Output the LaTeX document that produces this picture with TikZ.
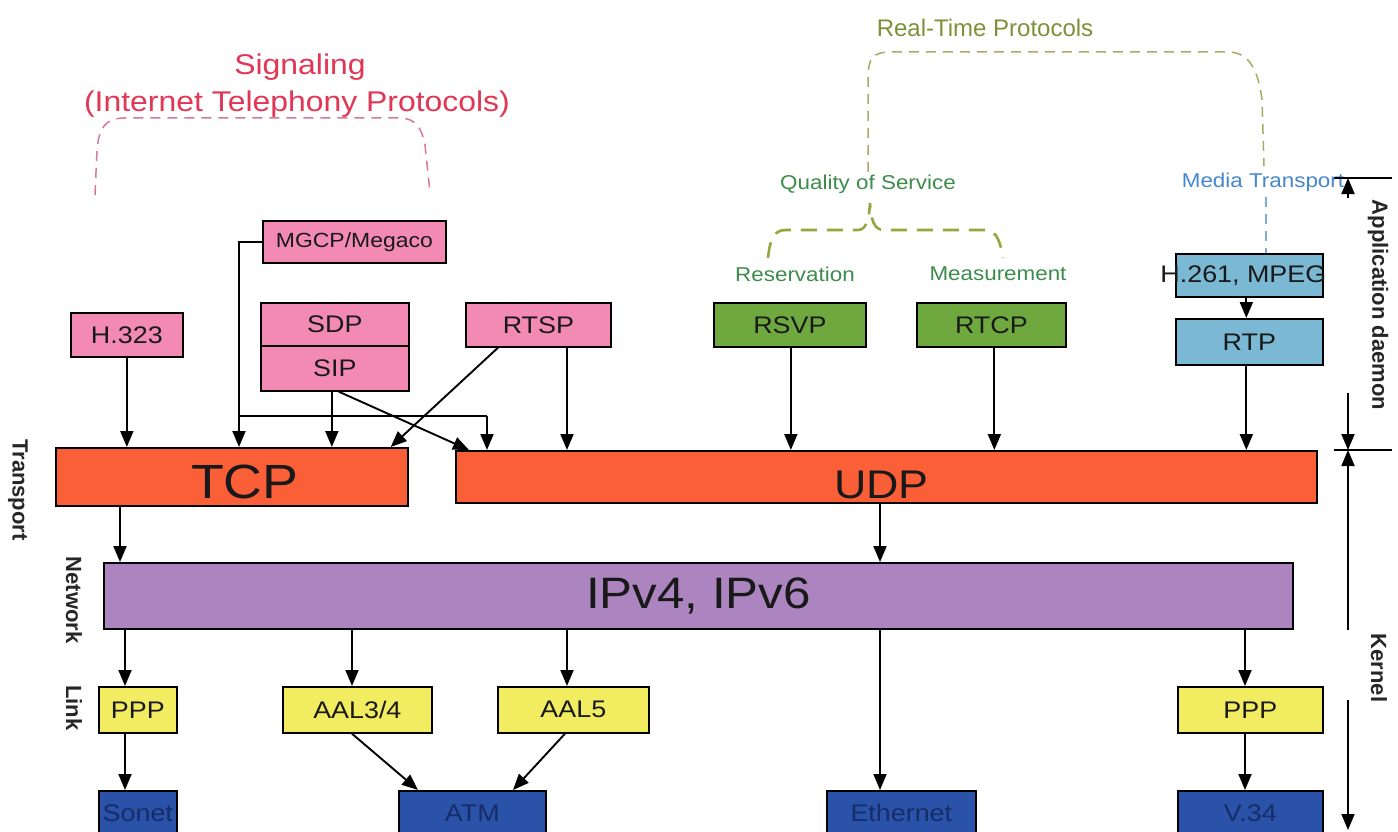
\documentclass[tikz,border=0pt]{standalone}
\usepackage{fontspec}
\setmainfont{Liberation Sans}[FakeStretch=1.12]
\newfontfamily\rotfont{Liberation Sans}
\usetikzlibrary{arrows.meta}

\definecolor{pinkfill}{RGB}{242,138,180}
\definecolor{greenfill}{RGB}{110,168,62}
\definecolor{cyanfill}{RGB}{122,184,212}
\definecolor{redfill}{RGB}{250,95,55}
\definecolor{purplefill}{RGB}{172,132,192}
\definecolor{yellowfill}{RGB}{242,236,96}
\definecolor{bluefill}{RGB}{42,82,168}
\definecolor{navytext}{RGB}{22,45,105}
\definecolor{sigred}{RGB}{225,55,85}
\definecolor{sigdash}{RGB}{215,120,150}
\definecolor{rtolive}{RGB}{125,145,55}
\definecolor{rtdash}{RGB}{170,170,100}
\definecolor{qosdash}{RGB}{150,165,60}
\definecolor{qosgreen}{RGB}{60,140,75}
\definecolor{mediablue}{RGB}{70,135,205}

\newcommand\fs[1]{\fontsize{#1}{#1}\selectfont}

\begin{document}
\begin{tikzpicture}[x=1pt,y=-1pt,
  box/.style={draw=black, line width=1.7pt, anchor=north west, inner sep=0pt,
              font=\fs{24}, text=black!90},
  pinkbox/.style={box, fill=pinkfill},
  greenbox/.style={box, fill=greenfill},
  cyanbox/.style={box, fill=cyanfill},
  redbox/.style={box, fill=redfill},
  purplebox/.style={box, fill=purplefill},
  yellowbox/.style={box, fill=yellowfill},
  darkbox/.style={box, fill=bluefill, text=navytext},
  bigtext/.style={text=black!90, inner sep=0pt},
  arr/.style={draw=black, line width=1.9pt, -{Triangle[length=16pt,width=13pt]}},
  wire/.style={draw=black, line width=1.9pt},
  sidelabel/.style={font=\rotfont\bfseries\fs{22}, rotate=-90, text=black!85},
  qoslabel/.style={font=\fs{20}, text=qosgreen},
  sigbrace/.style={draw=sigdash, line width=1.5pt, dash pattern=on 10pt off 7pt},
  rtbrace/.style={draw=rtdash, line width=1.5pt, dash pattern=on 10pt off 7pt},
  qosbrace/.style={draw=qosdash, line width=2.6pt, dash pattern=on 16pt off 10pt},
  mediabrace/.style={draw=mediablue!70, line width=1.5pt, dash pattern=on 10pt off 7pt},
]
\fill[white] (0,0) rectangle (1398,832);
\useasboundingbox (0,0) rectangle (1398,832);

% ---- group headings ----
\node[font=\fs{28.5}, text=sigred] (sig) at (300,67) {Signaling};
\node[font=\fs{28.5}, text=sigred] (sigsub) at (297,104) {(Internet Telephony Protocols)};
\node[font=\rotfont\fs{24}, text=rtolive] (rt) at (985,28) {Real-Time Protocols};
\node[qoslabel] (qos) at (868,184) {Quality of Service};
\node[qoslabel] (resv) at (795,274) {Reservation};
\node[qoslabel] (meas) at (998,274) {Measurement};
\node[font=\fs{20}, text=mediablue] (media) at (1263,182) {Media Transport};

% ---- dashed braces ----
\draw[sigbrace] (95,195) -- (97,150) .. controls (99,128) and (105,118) .. (125,118)
  -- (400,118) .. controls (415,118) and (422,128) .. (425,145) -- (430,192);
\draw[rtbrace] (868,172) -- (868,80) .. controls (868,58) and (872,52) .. (892,52)
  -- (1228,52) .. controls (1248,52) and (1258,68) .. (1262,100) -- (1264,166);
\draw[qosbrace] (768,258) .. controls (770,240) and (773,230) .. (786,230) -- (858,230)
  .. controls (866,230) and (869,220) .. (870,203)
  .. controls (871,220) and (874,230) .. (884,230) -- (985,230)
  .. controls (996,230) and (1000,240) .. (1003,258);
\draw[mediabrace] (1266,197) -- (1266,253);

% ---- application protocols ----
\node[pinkbox, minimum width=183pt, minimum height=42pt, font=\fs{20.5}] (mgcp) at (262,220) {MGCP/Megaco};
\node[pinkbox, minimum width=112pt, minimum height=44pt] (h323) at (70,312) {H.323};
\node[pinkbox, minimum width=148pt, minimum height=43pt] (sdp) at (260,302) {SDP};
\node[pinkbox, minimum width=148pt, minimum height=45pt] (sip) at (260,345) {SIP};
\node[pinkbox, minimum width=145pt, minimum height=44pt] (rtsp) at (465,302) {RTSP};
\node[greenbox, minimum width=152pt, minimum height=44pt] (rsvp) at (713,302) {RSVP};
\node[greenbox, minimum width=149pt, minimum height=44pt] (rtcp) at (916,302) {RTCP};
\node[cyanbox, minimum width=147pt, minimum height=43pt] (mpeg) at (1175,253) {};
\node[bigtext, font=\fs{24}] (mpegtext) at ([xshift=-6pt]mpeg.center) {H.261, MPEG};
\node[cyanbox, minimum width=147pt, minimum height=46pt] (rtp) at (1175,318) {RTP};

% ---- transport and network ----
\node[redbox, minimum width=352pt, minimum height=58pt] (tcp) at (55,447) {};
\node[bigtext, font=\fs{48}] (tcptext) at ([xshift=13pt,yshift=-5pt]tcp.center) {TCP};
\node[redbox, minimum width=861pt, minimum height=52pt] (udp) at (455,450) {};
\node[bigtext, font=\fs{40}] (udptext) at ([xshift=-5pt,yshift=-8pt]udp.center) {UDP};
\node[purplebox, minimum width=1189pt, minimum height=66pt, font=\fs{44}] (ip) at (103,562) {IPv4, IPv6};

% ---- link and physical ----
\node[yellowbox, minimum width=78pt, minimum height=46pt] (ppp1) at (98,686) {PPP};
\node[yellowbox, minimum width=149pt, minimum height=46pt] (aal34) at (282,686) {AAL3/4};
\node[yellowbox, minimum width=151pt, minimum height=46pt] (aal5) at (497,686) {AAL5};
\node[yellowbox, minimum width=145pt, minimum height=46pt] (ppp2) at (1177,686) {PPP};
\node[darkbox, minimum width=78pt, minimum height=44pt] (sonet) at (98,790) {Sonet};
\node[darkbox, minimum width=147pt, minimum height=44pt] (atm) at (398,790) {ATM};
\node[darkbox, minimum width=149pt, minimum height=44pt] (eth) at (826,790) {Ethernet};
\node[darkbox, minimum width=145pt, minimum height=44pt] (v34) at (1177,790) {V.34};

% ---- connectors: application to transport ----
\draw[arr] (h323) -- (h323 |- tcp.north);
\coordinate (jA) at (239,416);
\coordinate (jB) at (487,416);
\draw[wire] (mgcp.west) -| (jA);
\draw[wire] (jA) -- (jB);
\draw[arr] (jA) -- (jA |- tcp.north);
\draw[arr] (jB) -- (jB |- udp.north);
\draw[arr] ([xshift=-3pt]sip.south) -- ([xshift=-3pt]sip.south |- tcp.north);
\draw[arr] ([xshift=4pt]sip.south) -- ([xshift=14pt]udp.north west);
\draw[arr] ([xshift=33pt]rtsp.south west) -- ([xshift=-18pt]tcp.north east);
\draw[arr] ([xshift=102pt]rtsp.south west) -- ([xshift=102pt]rtsp.south west |- udp.north);
\draw[arr] ([xshift=1pt]rsvp.south) -- ([xshift=1pt]rsvp.south |- udp.north);
\draw[arr] ([xshift=3pt]rtcp.south) -- ([xshift=3pt]rtcp.south |- udp.north);
\draw[arr] ([xshift=-3pt]mpeg.south) -- ([xshift=-3pt]rtp.north);
\draw[arr] ([xshift=-3pt]rtp.south) -- ([xshift=-3pt]rtp.south |- udp.north);

% ---- connectors: transport to network to link ----
\draw[arr] ([xshift=65pt]tcp.south west) -- ([xshift=65pt]tcp.south west |- ip.north);
\draw[arr] ([xshift=425pt]udp.south west) -- ([xshift=425pt]udp.south west |- ip.north);
\draw[arr] ([xshift=27pt]ppp1.north west |- ip.south) -- ([xshift=27pt]ppp1.north west);
\draw[arr] ([xshift=70pt]aal34.north west |- ip.south) -- ([xshift=70pt]aal34.north west);
\draw[arr] ([xshift=70pt]aal5.north west |- ip.south) -- ([xshift=70pt]aal5.north west);
\draw[arr] ([xshift=54pt]eth.north west |- ip.south) -- ([xshift=54pt]eth.north west);
\draw[arr] ([xshift=68pt]ppp2.north west |- ip.south) -- ([xshift=68pt]ppp2.north west);
\draw[arr] ([xshift=27pt]ppp1.south west) -- ([xshift=27pt]sonet.north west);
\draw[arr] ([xshift=70pt]aal34.south west) -- ([xshift=20pt]atm.north west);
\draw[arr] ([xshift=68pt]aal5.south west) -- ([xshift=115pt]atm.north west);
\draw[arr] ([xshift=68pt]ppp2.south west) -- ([xshift=68pt]v34.north west);

% ---- layer labels ----
\node[sidelabel] (transp) at (18,490) {Transport};
\node[sidelabel] (netw) at (74,600) {Network};
\node[sidelabel] (lnk) at (74,708) {Link};
\node[sidelabel] (appd) at (1378,305) {Application daemon};
\node[sidelabel] (kern) at (1379,668) {Kernel};

% ---- extent markers on the right ----
\coordinate (tickTopL) at (1334,178);
\coordinate (tickTopR) at (1392,178);
\coordinate (tickMidL) at (1334,450);
\coordinate (tickMidR) at (1392,450);
\coordinate (appTop) at (1348,178);
\coordinate (appTopTail) at (1348,198);
\coordinate (appBotTail) at (1348,393);
\coordinate (midTick) at (1348,450);
\coordinate (kerTopTail) at (1348,630);
\coordinate (kerBotTail) at (1348,700);
\coordinate (kerBot) at (1348,830);
\draw[wire] (tickTopL) -- (tickTopR);
\draw[wire] (tickMidL) -- (tickMidR);
\draw[arr] (appTopTail) -- (appTop);
\draw[arr] (appBotTail) -- (midTick);
\draw[arr] (kerTopTail) -- (midTick);
\draw[arr] (kerBotTail) -- (kerBot);
\end{tikzpicture}
\end{document}
